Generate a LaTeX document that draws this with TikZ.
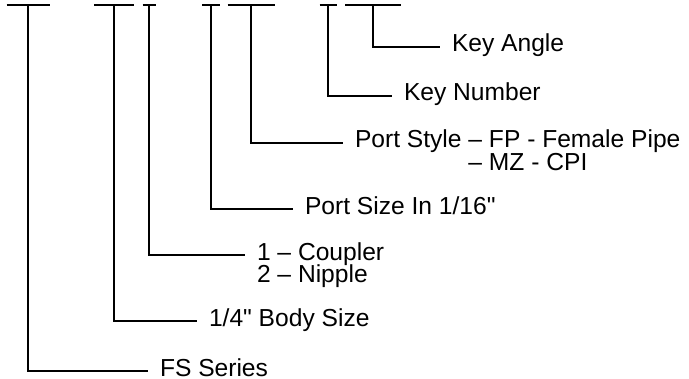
\documentclass[tikz,border=0pt]{standalone}
\usepackage{fontspec}
\setmainfont{Liberation Sans}
\begin{document}
\begin{tikzpicture}[x=0.5pt,y=-0.5pt,line width=1.35pt,
  lbl/.style={anchor=west,inner xsep=0pt,inner ysep=0pt,outer xsep=6pt,
    text height=7pt,text depth=2pt,font=\fontsize{12.3}{14}\selectfont},
  bar/.style={line cap=butt}]
\useasboundingbox (0,0) rectangle (689,379);
% balken oben
\foreach \nm/\x/\hw in {fs/28/21.5,body/114/20,kind/149/6.5,psize/211/9,pstyle/251/23.5,knum/328/8.5,kang/373/28} {
  \draw[bar] (\x-\hw,5) -- (\x+\hw,5);
  \coordinate (t\nm) at (\x,5);
}
% beschriftungen
\node[lbl] (fs) at (148,371) {FS Series};
\node[lbl] (body) at (197,321) {1/4\textquotedbl{} Body Size};
\node[lbl] (kind) at (245,255) {1 – Coupler};
\node[lbl,anchor=base west] (kind2) at ([yshift=-11pt]kind.base west) {2 – Nipple};
\node[lbl] (psize) at (293,209) {Port Size In 1/16\textquotedbl};
\node[lbl] (pstyle) at (343,143) {Port Style – FP - Female Pipe};
\node[lbl,anchor=base west] (pstyle2) at ([yshift=-11pt]pstyle.base west) {\phantom{Port Style\ }– MZ - CPI};
\node[lbl] (knum) at (392,96) {Key Number};
\node[lbl] (kang) at (440,47) {Key Angle};
% verbindungen
\foreach \nm in {fs,body,kind,psize,pstyle,knum,kang} { \draw (t\nm) |- (\nm); }
\end{tikzpicture}
\end{document}
